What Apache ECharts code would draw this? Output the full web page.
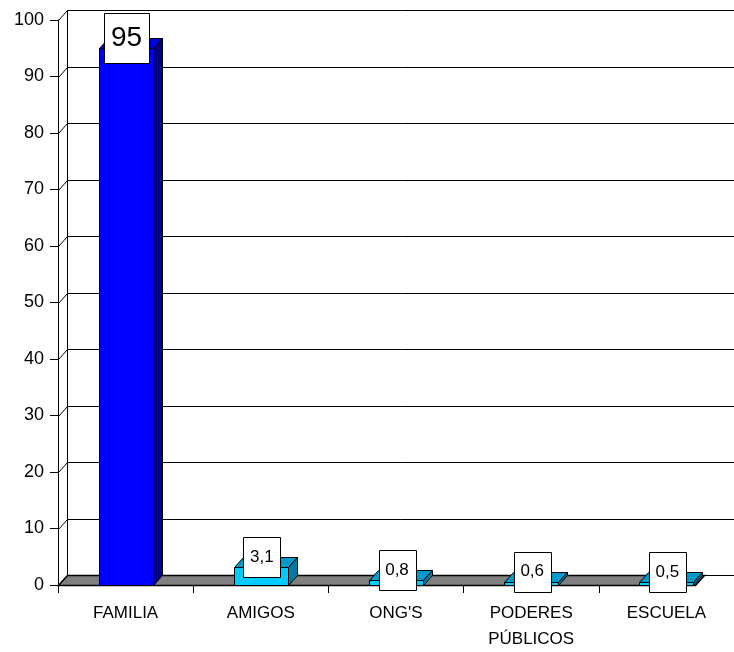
<!DOCTYPE html>
<html>
<head>
<meta charset="utf-8">
<script src="https://cdn.jsdelivr.net/npm/echarts@6/dist/echarts.min.js"></script>
<style>
  html, body { margin: 0; padding: 0; background: #fff; }
  #chart { width: 734px; height: 652px; }
</style>
</head>
<body>
<div id="chart"></div>
<script>
var categories = ['FAMILIA', 'AMIGOS', "ONG'S", 'PODERES\nPÚBLICOS', 'ESCUELA']
var values = [95, 3.1, 0.8, 0.6, 0.5]
var valueLabels = ['95', '3,1', '0,8', '0,6', '0,5']
var yTicks = [0, 10, 20, 30, 40, 50, 60, 70, 80, 90, 100]

// 3d depth offset
var DX = 9
var DY = -10

var barColors = [
  { front: '#0000ff', top: '#0000e0', side: '#000080' },
  { front: '#00ccff', top: '#0099cc', side: '#007aa3' },
  { front: '#00ccff', top: '#0099cc', side: '#007aa3' },
  { front: '#00ccff', top: '#0099cc', side: '#007aa3' },
  { front: '#00ccff', top: '#0099cc', side: '#007aa3' }
]

// snap to pixel centre so 1px lines stay sharp
function px(n) {
  return Math.round(n) + 0.5
}

function renderWall(params, api) {
  var sys = params.coordSys
  var y = api.coord([0, api.value(1)])[1]
  var lx = px(sys.x)
  var bx = px(sys.x + DX)
  var ly = px(y)
  var by = px(y + DY)
  var ln = { stroke: '#000', lineWidth: 1 }
  return {
    type: 'group',
    children: [
      { type: 'line', shape: { x1: bx, y1: by, x2: sys.x + sys.width + DX, y2: by }, style: ln },
      { type: 'line', shape: { x1: lx, y1: ly, x2: bx, y2: by }, style: ln },
      { type: 'line', shape: { x1: bx, y1: px(sys.y + DY), x2: bx, y2: px(sys.y + sys.height + DY) }, style: ln }
    ]
  }
}

function renderFloor(params, api) {
  var sys = params.coordSys
  var y = px(api.coord([0, 0])[1])
  var x0 = px(sys.x)
  var x1 = px(sys.x + sys.width * 0.943)
  return {
    type: 'polygon',
    shape: { points: [[x0, y], [x1, y], [x1 + DX, y + DY], [x0 + DX, y + DY]] },
    style: { fill: '#808080', stroke: '#000', lineWidth: 1.5 }
  }
}

function renderBar(params, api) {
  var i = api.value(0)
  var v = api.value(1)
  var top = api.coord([i, v])
  var base = api.coord([i, 0])
  var bw = Math.round(api.size([1, 0])[0] * 0.4)
  var L = px(top[0] - bw / 2)
  var R = L + bw
  var yt = px(top[1])
  var yb = px(base[1])
  var c = barColors[i]
  var big = i === 0
  var boxW = big ? 45 : 37
  var boxH = big ? 50 : 40
  var bx = top[0] + 1
  var by = top[1] - 10
  var ln = { stroke: '#000', lineWidth: 1 }
  return {
    type: 'group',
    children: [
      { type: 'rect', shape: { x: L, y: yt, width: bw, height: yb - yt }, style: { fill: c.front, stroke: '#000', lineWidth: 1 } },
      { type: 'polygon', shape: { points: [[L, yt], [R, yt], [R + DX, yt + DY], [L + DX, yt + DY]] }, style: { fill: c.top, stroke: '#000', lineWidth: 1 } },
      { type: 'polygon', shape: { points: [[R, yt], [R + DX, yt + DY], [R + DX, yb + DY], [R, yb]] }, style: { fill: c.side, stroke: '#000', lineWidth: 1 } },
      { type: 'rect', shape: { x: px(bx - boxW / 2), y: px(by - boxH / 2), width: boxW, height: boxH }, style: { fill: '#fff', stroke: '#000', lineWidth: 1 } },
      {
        type: 'text',
        x: bx, y: by,
        style: {
          text: valueLabels[i],
          fill: '#000',
          font: (big ? '28px' : '17px') + ' "Liberation Sans", Arial, sans-serif',
          align: 'center',
          verticalAlign: 'middle'
        }
      }
    ]
  }
}

var chart = echarts.init(document.getElementById('chart'))
chart.setOption({
  animation: false,
  backgroundColor: '#fff',
  grid: { left: 58, right: 0, top: 20, bottom: 61 },
  xAxis: {
    type: 'category',
    data: categories,
    axisLine: { show: false },
    axisTick: { show: true, length: 8, lineStyle: { color: '#000' } },
    axisLabel: {
      color: '#000',
      fontFamily: '"Liberation Sans", Arial, sans-serif',
      fontSize: 17,
      lineHeight: 26,
      margin: 15,
      interval: 0
    }
  },
  yAxis: {
    type: 'value',
    min: 0,
    max: 100,
    interval: 10,
    axisLine: { show: true, lineStyle: { color: '#000' } },
    axisTick: { show: true, length: 8, lineStyle: { color: '#000' } },
    axisLabel: {
      color: '#000',
      fontFamily: '"Liberation Sans", Arial, sans-serif',
      fontSize: 18,
      margin: 14
    },
    splitLine: { show: false }
  },
  series: [
    {
      type: 'custom',
      name: 'wall',
      renderItem: renderWall,
      data: yTicks.map(function (t) { return [0, t] }),
      encode: { x: 0, y: 1 },
      silent: true,
      clip: false,
      z: 1
    },
    {
      type: 'custom',
      name: 'floor',
      renderItem: renderFloor,
      data: [[0, 0]],
      encode: { x: 0, y: 1 },
      silent: true,
      clip: false,
      z: 2
    },
    {
      type: 'custom',
      name: 'bars',
      renderItem: renderBar,
      data: values.map(function (v, i) { return [i, v] }),
      encode: { x: 0, y: 1 },
      clip: false,
      z: 3
    }
  ]
})
</script>
</body>
</html>
